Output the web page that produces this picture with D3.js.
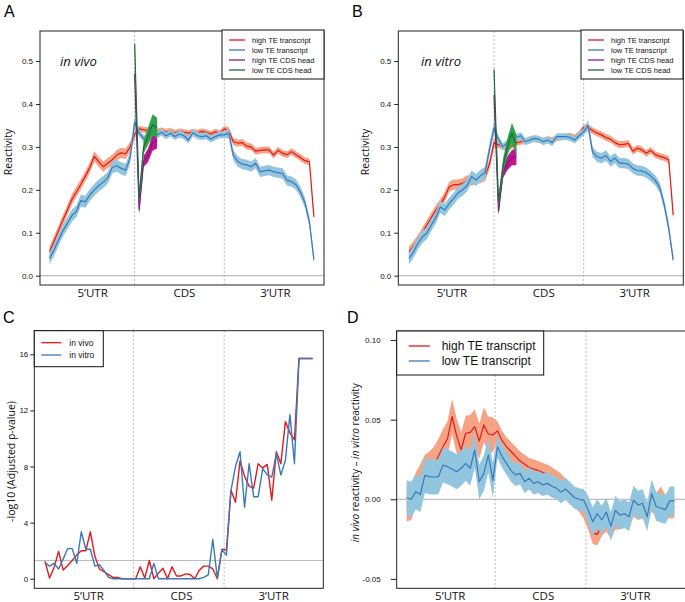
<!DOCTYPE html>
<html>
<head>
<meta charset="utf-8">
<script src="https://cdn.jsdelivr.net/npm/d3@7"></script>
<style>
  body { margin: 0; background: #fff; }
  svg text { font-family: "Liberation Sans", Arial, sans-serif; }
</style>
</head>
<body>
<svg id="fig" width="685" height="602"></svg>
<script>
// ---- data ----
// 60 bins along the metagene: 1-20 5'UTR, 21-40 CDS, 41-60 3'UTR
const bins = d3.range(1, 61);
const regionNames = ["5’UTR", "CDS", "3’UTR"];
const regionTickPos = [10.5, 31, 51.3];
const headBins = [20, 21, 22, 23, 24, 25];

// Panel A: in vivo reactivity
const redA = [0.056, 0.080, 0.105, 0.130, 0.153, 0.178, 0.195, 0.213, 0.232, 0.252, 0.278, 0.265, 0.254, 0.262, 0.270, 0.281, 0.286, 0.284, 0.300, 0.330,
  0.342, 0.340, 0.338, 0.338, 0.336, 0.338, 0.335, 0.337, 0.333, 0.336, 0.334, 0.332, 0.335, 0.333, 0.336, 0.334, 0.330, 0.335, 0.332, 0.342,
  0.338, 0.312, 0.309, 0.310, 0.302, 0.300, 0.290, 0.292, 0.293, 0.293, 0.281, 0.292, 0.285, 0.282, 0.289, 0.282, 0.275, 0.268, 0.265, 0.137];
const blueA = [0.040, 0.060, 0.083, 0.105, 0.122, 0.140, 0.150, 0.175, 0.172, 0.188, 0.200, 0.210, 0.218, 0.228, 0.252, 0.256, 0.250, 0.246, 0.275, 0.358,
  0.332, 0.320, 0.318, 0.322, 0.328, 0.334, 0.326, 0.332, 0.324, 0.330, 0.326, 0.316, 0.333, 0.326, 0.324, 0.326, 0.318, 0.324, 0.328, 0.328,
  0.332, 0.281, 0.266, 0.260, 0.258, 0.254, 0.262, 0.242, 0.244, 0.246, 0.242, 0.240, 0.238, 0.222, 0.219, 0.212, 0.195, 0.170, 0.125, 0.037];
const purpleHeadA = [0.470, 0.153, 0.266, 0.281, 0.309, 0.316];
const greenHeadA = [0.540, 0.180, 0.300, 0.325, 0.352, 0.344];

// Panel B: in vitro reactivity
const redB = [0.056, 0.068, 0.083, 0.100, 0.118, 0.135, 0.152, 0.166, 0.183, 0.207, 0.212, 0.212, 0.215, 0.222, 0.222, 0.225, 0.228, 0.232, 0.260, 0.310,
  0.305, 0.300, 0.298, 0.302, 0.310, 0.312, 0.314, 0.318, 0.318, 0.316, 0.315, 0.318, 0.316, 0.320, 0.322, 0.324, 0.326, 0.322, 0.330, 0.345,
  0.345, 0.338, 0.332, 0.328, 0.322, 0.318, 0.310, 0.305, 0.306, 0.308, 0.290, 0.297, 0.293, 0.285, 0.292, 0.282, 0.278, 0.275, 0.270, 0.141];
const blueB = [0.040, 0.055, 0.075, 0.090, 0.099, 0.118, 0.135, 0.160, 0.153, 0.168, 0.180, 0.193, 0.200, 0.210, 0.231, 0.223, 0.233, 0.240, 0.295, 0.344,
  0.318, 0.300, 0.310, 0.318, 0.322, 0.326, 0.312, 0.316, 0.320, 0.318, 0.312, 0.316, 0.310, 0.324, 0.324, 0.324, 0.322, 0.316, 0.326, 0.335,
  0.350, 0.288, 0.277, 0.274, 0.280, 0.266, 0.274, 0.262, 0.262, 0.260, 0.250, 0.245, 0.244, 0.240, 0.232, 0.222, 0.205, 0.165, 0.110, 0.037];
const purpleHeadB = [0.421, 0.150, 0.240, 0.262, 0.275, 0.277];
const greenHeadB = [0.480, 0.172, 0.255, 0.300, 0.332, 0.305];

// confidence band half-widths (per region for transcripts, per bin for CDS heads)
const bandRedAB = [0.012, 0.007, 0.008];
const bandBlueAB = [0.014, 0.008, 0.012];
const bandPurpleHead = [0.012, 0.010, 0.013, 0.016, 0.018, 0.020];
const bandGreenHead = [0.015, 0.012, 0.016, 0.020, 0.024, 0.024];

// Panel C: -log10 adjusted p-value
const pVivo = [1.25, 0.05, 0.80, 1.95, 0.62, 0.95, 1.30, 1.70, 2.00, 2.00, 3.35, 1.60, 0.70, 0.50, 0.30, 0.10, 0.10, 0.00, 0.00, 0.00,
  0.00, 0.85, 0.05, 1.30, 0.00, 0.40, 0.75, 0.00, 0.85, 0.20, 0.20, 0.35, 0.30, 0.00, 0.60, 0.90, 0.90, 0.70, 0.00, 2.10,
  2.05, 6.30, 5.45, 8.40, 7.30, 6.60, 6.45, 8.20, 7.90, 8.15, 5.60, 9.05, 8.20, 11.20, 10.40, 9.90, 15.70, 15.70, 15.70, 15.70];
const pVitro = [1.15, 0.90, 1.10, 0.70, 1.40, 2.15, 2.15, 1.10, 3.35, 2.10, 2.10, 0.90, 1.00, 0.60, 0.10, 0.00, 0.00, 0.00, 0.00, 0.00,
  0.00, 0.00, 0.00, 0.00, 1.10, 0.00, 0.00, 0.00, 0.00, 0.00, 0.00, 0.00, 0.00, 0.00, 0.00, 0.10, 0.28, 2.80, 0.05, 2.05,
  1.70, 6.30, 8.00, 9.05, 5.10, 8.20, 5.85, 5.85, 7.85, 7.40, 7.25, 8.90, 7.40, 8.45, 11.70, 8.20, 15.70, 15.70, 15.70, 15.70];
const pThreshold = 1.301;

// Panel D: in vivo - in vitro reactivity
const diffHigh = [-0.003, -0.002, 0.006, 0.011, 0.017, 0.019, 0.022, 0.027, 0.033, 0.038, 0.052, 0.040, 0.031, 0.0415, 0.042, 0.0456, 0.0365, 0.0467, 0.041, 0.0404,
  0.043, 0.037, 0.033, 0.030, 0.027, 0.024, 0.022, 0.020, 0.019, 0.018, 0.0168, 0.0158, 0.0142, 0.0122, 0.010, 0.007, 0.004, 0.001, -0.002, -0.006,
  -0.012, -0.021, -0.022, -0.016, -0.013, -0.018, -0.012, -0.012, -0.010, -0.011, -0.004, -0.006, -0.005, -0.009, -0.001, -0.003, 0.001, -0.004, -0.005, -0.0046];
const diffLow = [0.001, 0.000, 0.0048, 0.003, 0.015, 0.0142, 0.014, 0.0142, 0.0215, 0.0205, 0.019, 0.0173, 0.0195, 0.0226, 0.0195, 0.031, 0.011, 0.0163, 0.0278, 0.012,
  0.033, 0.027, 0.0226, 0.018, 0.0153, 0.0163, 0.011, 0.0132, 0.010, 0.011, 0.009, 0.010, 0.0082, 0.007, 0.0045, 0.0065, 0.0038, 0.001, 0.000, -0.0005,
  -0.0067, -0.014, -0.009, -0.013, -0.008, -0.017, -0.007, -0.010, -0.009, -0.011, -0.0005, -0.0036, -0.0025, -0.011, 0.0035, -0.0045, -0.0055, -0.0065, -0.001, -0.001];
const bandRedD = [0.011, 0.006, 0.007];
const bandBlueD = [0.011, 0.007, 0.009];

// ---- colours ----
const RED = "#E31A1C", RED_BAND = "#F4A385";
const BLUE = "#3A78B9", BLUE_BAND = "#92C5DE";
const PURPLE = "#7A1C7C", PURPLE_BAND = "#C0188C";
const GREEN = "#1D6B3F", GREEN_BAND = "#2DA44A";

const svg = d3.select("#fig");

function regionOf(i) { return Math.min(2, Math.floor((i - 1) / 20)); }

function drawPanel(cfg) {
  const g = svg.append("g");
  const x = d3.scaleLinear().domain(cfg.xDomain).range([cfg.left, cfg.right]);
  const y = d3.scaleLinear().domain(cfg.yDomain).range([cfg.bottom, cfg.top]);

  // reference line
  g.append("line")
    .attr("x1", cfg.left).attr("x2", cfg.right)
    .attr("y1", y(cfg.refLine)).attr("y2", y(cfg.refLine))
    .attr("stroke", "#BDBDBD").attr("stroke-width", 1.2);

  // region dividers
  g.selectAll(".div").data(cfg.dividers).enter().append("line")
    .attr("x1", d => x(d)).attr("x2", d => x(d))
    .attr("y1", cfg.top).attr("y2", cfg.bottom)
    .attr("stroke", "#BBBBBB").attr("stroke-width", 1)
    .attr("stroke-dasharray", "2,2");

  // series: band then line
  cfg.series.forEach(s => {
    const pts = s.xs.map((b, k) => ({ x: b, v: s.values[k], h: s.band ? s.band(k, b) : 0 }));
    if (s.band) {
      g.append("path").datum(pts)
        .attr("fill", s.bandColor)
        .attr("d", d3.area().x(d => x(d.x)).y0(d => y(d.v - d.h)).y1(d => y(d.v + d.h)));
    }
    g.append("path").datum(pts)
      .attr("fill", "none").attr("stroke", s.color).attr("stroke-width", s.width || 1.2)
      .attr("stroke-linejoin", "round")
      .attr("d", d3.line().x(d => x(d.x)).y(d => y(d.v)));
  });

  // frame
  g.append("rect")
    .attr("x", cfg.left).attr("y", cfg.top)
    .attr("width", cfg.right - cfg.left).attr("height", cfg.bottom - cfg.top)
    .attr("fill", "none").attr("stroke", "#222").attr("stroke-width", 1);

  // y axis
  const ya = g.append("g")
    .attr("transform", `translate(${cfg.left},0)`)
    .call(d3.axisLeft(y).tickValues(cfg.yTicks).tickFormat(cfg.yFormat)
      .tickSize(cfg.tickSize || 4).tickPadding(cfg.tickPad || 3));
  ya.select(".domain").remove();
  ya.selectAll("text").attr("font-size", 8).attr("fill", "#111")
    .style("font-family", "'Liberation Sans', Arial, sans-serif");
  ya.selectAll("line").attr("stroke", "#222");

  // region labels
  const xa = g.append("g")
    .attr("transform", `translate(0,${cfg.bottom})`)
    .call(d3.axisBottom(x).tickValues(regionTickPos).tickFormat((d, i) => regionNames[i])
      .tickSize(0).tickPadding(3.5));
  xa.select(".domain").remove();
  xa.selectAll("text").attr("font-size", 11.5).attr("fill", "#111")
    .style("font-family", "'Open Sans', sans-serif");

  // y label
  const yl = g.append("text")
    .attr("transform", `translate(${cfg.yLabelX},${(cfg.top + cfg.bottom) / 2 + (cfg.yLabelDy || 0)}) rotate(-90)`)
    .attr("text-anchor", "middle")
    .attr("font-size", cfg.yLabelSize || 11)
    .attr("fill", "#111")
    .style("font-family", "'Open Sans', sans-serif");
  cfg.yLabel.forEach(part => {
    yl.append("tspan").text(part.t).attr("font-style", part.i ? "italic" : "normal");
  });

  // panel letter
  g.append("text").attr("x", cfg.letterX).attr("y", cfg.letterY)
    .attr("font-size", 16).attr("fill", "#000").text(cfg.letter);

  // legend
  const L = cfg.legend;
  const lg = g.append("g");
  lg.append("rect").attr("x", L.x).attr("y", L.y).attr("width", L.w).attr("height", L.h)
    .attr("fill", "#fff").attr("stroke", "#111").attr("stroke-width", 1);
  L.items.forEach((it, k) => {
    const yy = L.y + L.first + k * L.step;
    lg.append("line").attr("x1", L.x + L.l1).attr("x2", L.x + L.l2)
      .attr("y1", yy).attr("y2", yy).attr("stroke", it.c).attr("stroke-width", 1.3);
    lg.append("text").attr("x", L.x + L.tx).attr("y", yy).attr("dy", "0.35em")
      .attr("font-size", L.fs).attr("fill", "#111").text(it.t);
  });

  if (cfg.note) {
    g.append("text").attr("x", cfg.note.x).attr("y", cfg.note.y)
      .attr("font-size", 13).attr("font-style", "italic").attr("fill", "#111")
      .style("font-family", "'Open Sans', sans-serif").text(cfg.note.t);
  }
  return { x, y };
}

const transcriptLegend = [
  { t: "high TE transcript", c: RED },
  { t: "low TE transcript", c: BLUE },
  { t: "high TE CDS head", c: "#8B1A89" },
  { t: "low TE CDS head", c: GREEN }
];

function reactivitySeries(red, blue, purpleHead, greenHead) {
  return [
    { xs: bins, values: red, color: RED, bandColor: RED_BAND, band: (k, b) => bandRedAB[regionOf(b)] },
    { xs: bins, values: blue, color: BLUE, bandColor: BLUE_BAND, band: (k, b) => bandBlueAB[regionOf(b)] },
    { xs: headBins, values: purpleHead, color: PURPLE, bandColor: PURPLE_BAND, band: k => bandPurpleHead[k] },
    { xs: headBins, values: greenHead, color: GREEN, bandColor: GREEN_BAND, band: k => bandGreenHead[k] }
  ];
}

// Panel A
drawPanel({
  left: 40, right: 324, top: 31, bottom: 285,
  xDomain: [-1.12, 62.25], yDomain: [-0.0217, 0.570],
  refLine: 0, dividers: [20, 40],
  yTicks: [0, 0.1, 0.2, 0.3, 0.4, 0.5], yFormat: d3.format(".1f"),
  yLabel: [{ t: "Reactivity" }], yLabelX: 12, yLabelDy: -6, yLabelSize: 10.5,
  letter: "A", letterX: 4, letterY: 17,
  note: { x: 60, y: 66, t: "in vivo" },
  legend: { x: 222, y: 30, w: 102, h: 49, first: 10, step: 10, l1: 7, l2: 23, tx: 30, fs: 7.5, items: transcriptLegend },
  series: reactivitySeries(redA, blueA, purpleHeadA, greenHeadA)
});

// Panel B
drawPanel({
  left: 398.3, right: 683.3, top: 31, bottom: 285,
  xDomain: [-1.36, 62.25], yDomain: [-0.0217, 0.570],
  refLine: 0, dividers: [20, 40],
  yTicks: [0, 0.1, 0.2, 0.3, 0.4, 0.5], yFormat: d3.format(".1f"),
  yLabel: [{ t: "Reactivity" }], yLabelX: 369, yLabelDy: -6, yLabelSize: 10.5,
  letter: "B", letterX: 352, letterY: 17,
  note: { x: 421, y: 66, t: "in vitro" },
  legend: { x: 581, y: 30, w: 102, h: 49, first: 10, step: 10, l1: 7, l2: 23, tx: 30, fs: 7.5, items: transcriptLegend },
  series: reactivitySeries(redB, blueB, purpleHeadB, greenHeadB)
});

// Panel C
drawPanel({
  left: 34.3, right: 323.3, top: 330.7, bottom: 588.3,
  xDomain: [-1.36, 62.36], yDomain: [-0.68, 17.68],
  refLine: pThreshold, dividers: [20.5, 40.5],
  yTicks: [0, 4, 8, 12, 16], yFormat: d3.format("d"), tickPad: 2,
  yLabel: [{ t: "-log10 (Adjusted p-value)" }], yLabelX: 15, yLabelDy: 2, yLabelSize: 10.5,
  letter: "C", letterX: 3, letterY: 323,
  legend: { x: 34.3, y: 330.7, w: 69, h: 36, first: 12, step: 12.3, l1: 7, l2: 27, tx: 35, fs: 8.5,
    items: [{ t: "in vivo", c: RED }, { t: "in vitro", c: BLUE }] },
  series: [
    { xs: bins, values: pVivo, color: RED, width: 1.4 },
    { xs: bins, values: pVitro, color: BLUE, width: 1.4 }
  ]
});

// Panel D
drawPanel({
  left: 396.7, right: 685.5, top: 331, bottom: 588.3,
  xDomain: [-1.2, 62.45], yDomain: [-0.0559, 0.1057],
  refLine: 0, dividers: [20.5, 40.5],
  yTicks: [-0.05, 0, 0.05, 0.10], yFormat: d => d.toFixed(2), tickSize: 6, tickPad: 10,
  yLabel: [{ t: "in vivo", i: true }, { t: " reactivity – " }, { t: "in vitro", i: true }, { t: " reactivity" }],
  yLabelX: 359, yLabelDy: 3, yLabelSize: 10,
  letter: "D", letterX: 347, letterY: 323,
  legend: { x: 396.7, y: 331, w: 147, h: 44, first: 15, step: 15, l1: 12, l2: 33, tx: 45, fs: 12,
    items: [{ t: "high TE transcript", c: RED }, { t: "low TE transcript", c: BLUE }] },
  series: [
    { xs: bins, values: diffHigh, color: RED, bandColor: RED_BAND, band: (k, b) => bandRedD[regionOf(b)] },
    { xs: bins, values: diffLow, color: BLUE, bandColor: BLUE_BAND, band: (k, b) => bandBlueD[regionOf(b)] }
  ]
});
</script>
</body>
</html>
